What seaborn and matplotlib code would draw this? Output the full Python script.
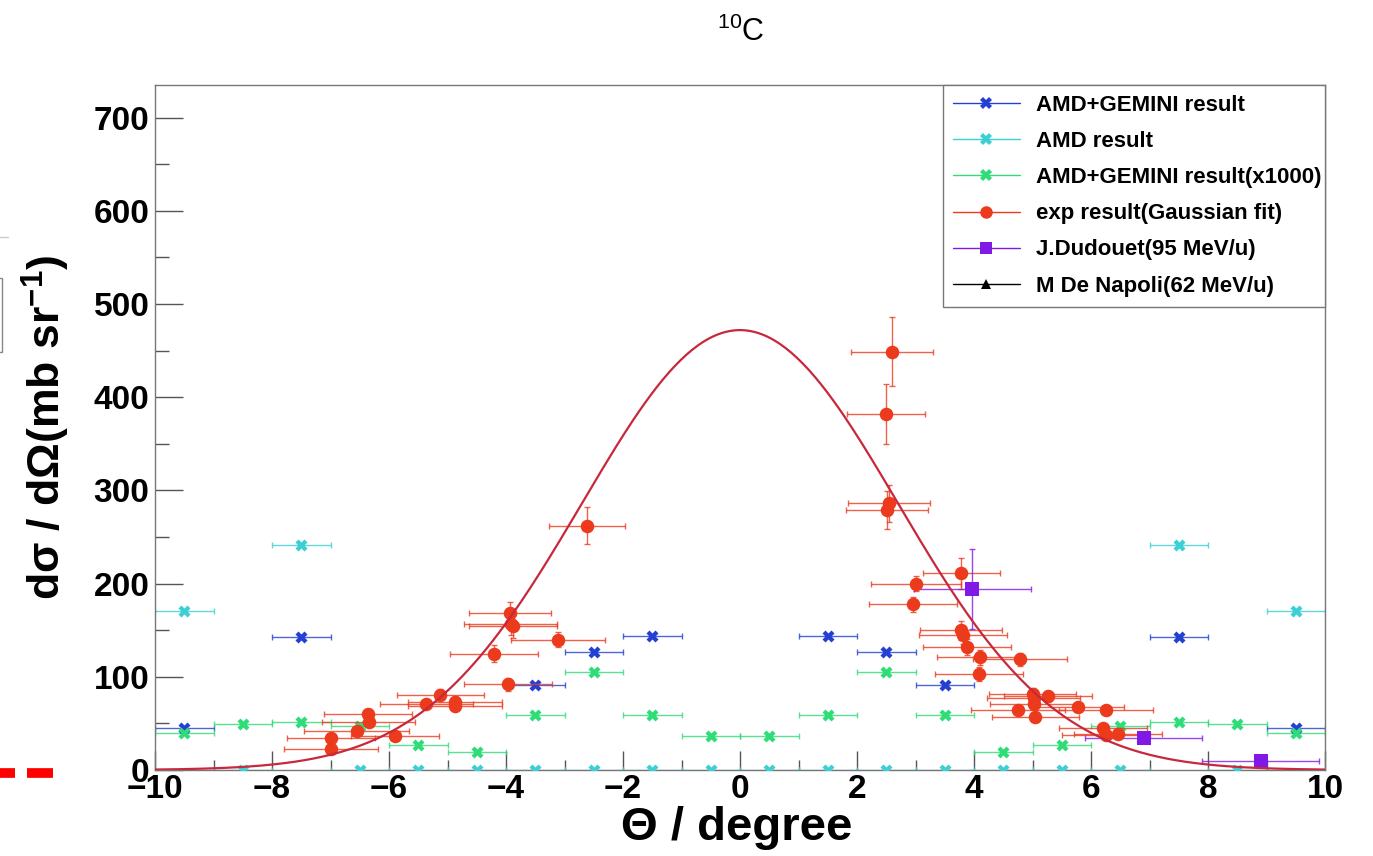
import numpy as np
import pandas as pd
import seaborn as sns
import matplotlib
matplotlib.use("Agg")
import matplotlib.pyplot as plt
from matplotlib.lines import Line2D
from matplotlib.patches import Rectangle
from matplotlib.ticker import MultipleLocator

# ---------------- data ----------------
# AMD+GEMINI result (blue)
gem_x = [-9.5, -7.5, -3.5, -2.5, -1.5, 1.5, 2.5, 3.5, 7.5, 9.5]
gem_y = [45, 143, 91, 127, 144, 144, 127, 91, 143, 45]

# AMD result (cyan)
amd_x = [-9.5, -8.5, -7.5, -6.5, -5.5, -4.5, -3.5, -2.5, -1.5, -0.5,
         0.5, 1.5, 2.5, 3.5, 4.5, 5.5, 6.5, 7.5, 8.5, 9.5]
amd_y = [171, 0, 241, 0, 0, 0, 0, 0, 0, 0,
         0, 0, 0, 0, 0, 0, 0, 241, 0, 171]

# AMD+GEMINI result (x1000) (green)
g1k_x = [-9.5, -8.5, -7.5, -6.5, -5.5, -4.5, -3.5, -2.5, -1.5, -0.5,
         0.5, 1.5, 2.5, 3.5, 4.5, 5.5, 6.5, 7.5, 8.5, 9.5]
g1k_y = [40, 49, 52, 47, 27, 19, 59, 105, 59, 37,
         37, 59, 105, 59, 19, 27, 47, 52, 49, 40]

# exp result (Gaussian fit) (red)
exp_x = [-6.99, -6.99, -6.55, -6.36, -6.35, -5.90, -5.36, -5.12, -4.87, -4.87,
         -4.20, -3.97, -3.93, -3.92, -3.88, -3.11, -2.62,
         2.60, 2.50, 2.55, 2.52, 3.78, 3.01, 2.96, 3.78, 3.81, 3.88, 4.11,
         4.79, 4.08, 5.00, 5.02, 5.02, 5.27, 5.77, 6.26, 4.75, 5.05, 6.20,
         6.26, 6.46]
exp_y = [34, 22, 42, 60, 52, 37, 71, 81, 73, 69,
         125, 92, 168, 157, 154, 140, 262,
         449, 382, 286, 279, 211, 200, 178, 150, 145, 132, 121,
         119, 103, 82, 77, 71, 79, 68, 64, 64, 57, 45,
         38, 39]
exp_xerr = [0.75, 0.80, 0.90, 0.75, 0.80, 0.75, 0.80, 0.75, 0.80, 0.80,
            0.75, 0.75, 0.70, 0.80, 0.75, 0.80, 0.65,
            0.70, 0.67, 0.70, 0.70, 0.66, 0.77, 0.75, 0.70, 0.75, 0.75, 0.75,
            0.80, 0.75, 0.75, 0.80, 0.75, 0.75, 0.80, 0.80, 0.80, 0.75, 0.75,
            0.75, 0.75]
exp_yerr = [4, 4, 4, 5, 5, 4, 5, 6, 6, 6,
            9, 7, 12, 12, 12, 8, 20,
            37, 32, 20, 20, 17, 8, 8, 10, 10, 9, 8,
            7, 7, 6, 6, 6, 6, 5, 5, 5, 5, 4,
            4, 4]

# J.Dudouet (95 MeV/u) (violet)
dud_x = [3.97, 6.9, 8.9]
dud_y = [194, 34, 10]
dud_xerr = [1.0, 1.0, 1.0]
dud_yerr = [43, 4, 2]

# M De Napoli (62 MeV/u) (black) -- no visible points
nap_x = []
nap_y = []

# Gaussian fit parameters
fit_amp, fit_mean, fit_sigma = 472.0, 0.0, 2.7

labels = ["AMD+GEMINI result", "AMD result", "AMD+GEMINI result(x1000)",
          "exp result(Gaussian fit)", "J.Dudouet(95 MeV/u)", "M De Napoli(62 MeV/u)"]

# ---------------- style ----------------
sns.set_theme(style="ticks")
plt.rcParams['font.family'] = ['Liberation Sans', 'DejaVu Sans']
plt.rcParams['mathtext.fontset'] = 'custom'
plt.rcParams['mathtext.rm'] = 'Liberation Sans'
plt.rcParams['mathtext.bf'] = 'Liberation Sans:bold'
plt.rcParams['text.color'] = 'black'
plt.rcParams['axes.labelcolor'] = 'black'
plt.rcParams['xtick.labelcolor'] = 'black'
plt.rcParams['ytick.labelcolor'] = 'black'

c_blue = '#2340d2'
c_cyan = '#3ccfd4'
c_green = '#2edc78'
c_red = '#eb3a1c'
c_fit = '#c8283c'
c_violet = '#8018e6'
c_black = '#000000'

W, H = 1373, 856
fig = plt.figure(figsize=(W / 100, H / 100), dpi=100)
ax = fig.add_axes([155 / W, 86 / H, 1170 / W, 685 / H])

def errs(x, y, xerr, yerr, color, lw=1.0, z=2):
    ax.errorbar(x, y, xerr=xerr, yerr=yerr, fmt='none', ecolor=color,
                elinewidth=lw, capsize=2.5, capthick=lw, alpha=0.8, zorder=z)

# blue
errs(gem_x, gem_y, [0.5] * len(gem_x), None, c_blue, z=2)
sns.scatterplot(x=gem_x, y=gem_y, marker='X', s=75, color=c_blue, linewidth=0, ax=ax, zorder=3)
# cyan
errs(amd_x, amd_y, [0.5] * len(amd_x), None, c_cyan, z=2)
sns.scatterplot(x=amd_x, y=amd_y, marker='X', s=75, color=c_cyan, linewidth=0, ax=ax, zorder=3)
# green
errs(g1k_x, g1k_y, [0.5] * len(g1k_x), None, c_green, z=2)
sns.scatterplot(x=g1k_x, y=g1k_y, marker='X', s=75, color=c_green, linewidth=0, ax=ax, zorder=3)
# red exp
errs(exp_x, exp_y, exp_xerr, exp_yerr, c_red, z=4)
sns.scatterplot(x=exp_x, y=exp_y, marker='o', s=95, color=c_red, linewidth=0, ax=ax, zorder=5)
# violet
errs(dud_x, dud_y, dud_xerr, dud_yerr, c_violet, z=4)
sns.scatterplot(x=dud_x, y=dud_y, marker='s', s=90, color=c_violet, linewidth=0, ax=ax, zorder=5)
# black (no points)
sns.scatterplot(x=nap_x, y=nap_y, marker='^', color=c_black, ax=ax)

# Gaussian fit curve
fx = np.linspace(-10, 10, 400)
fy = fit_amp * np.exp(-0.5 * ((fx - fit_mean) / fit_sigma) ** 2)
sns.lineplot(x=fx, y=fy, color=c_fit, linewidth=1.6, ax=ax, zorder=6)

ax.set_xlim(-10, 10)
ax.set_ylim(0, 735)

# ticks (ROOT style, inward)
ax.xaxis.set_major_locator(MultipleLocator(2))
ax.xaxis.set_minor_locator(MultipleLocator(1))
ax.yaxis.set_major_locator(MultipleLocator(100))
ax.yaxis.set_minor_locator(MultipleLocator(50))
ax.tick_params(axis='y', which='major', direction='in', length=20, width=1.0,
               color='#555555', labelsize=24, pad=4)
ax.tick_params(axis='y', which='minor', direction='in', length=10, width=1.0, color='#555555')
ax.tick_params(axis='x', which='major', direction='in', length=14, width=1.0,
               color='#555555', labelsize=24, pad=3)
ax.tick_params(axis='x', which='minor', direction='in', length=7, width=1.0, color='#555555')
for lab in ax.get_xticklabels() + ax.get_yticklabels():
    lab.set_fontweight('bold')

for sp in ax.spines.values():
    sp.set_visible(True)
    sp.set_color('#777777')
    sp.set_linewidth(1.0)

ax.set_xlabel('Θ / degree', fontsize=34, fontweight='bold', va='center')
ax.xaxis.set_label_coords(0.497, -0.085)
ax.set_ylabel(r'dσ / dΩ(mb sr$^{\mathbf{-1}}$)', fontsize=32, fontweight='bold', va='center')
ax.yaxis.set_label_coords(-0.0935, 0.50)

fig.text(741 / W, 1 - 32 / H, r'$^{10}$C', fontsize=22, ha='center', va='center')

# legend
handles = [
    Line2D([], [], color=c_blue, marker='X', markersize=8, markeredgewidth=0, linewidth=1),
    Line2D([], [], color=c_cyan, marker='X', markersize=8, markeredgewidth=0, linewidth=1),
    Line2D([], [], color=c_green, marker='X', markersize=8, markeredgewidth=0, linewidth=1),
    Line2D([], [], color=c_red, marker='o', markersize=9, markeredgewidth=0, linewidth=1),
    Line2D([], [], color=c_violet, marker='s', markersize=9, markeredgewidth=0, linewidth=1),
    Line2D([], [], color=c_black, marker='^', markersize=7, markeredgewidth=0, linewidth=1),
]
leg = ax.legend(handles, labels, loc='upper left',
                bbox_to_anchor=((943 - 155) / 1170, 0.0, 1 - (943 - 155) / 1170, 1.0),
                mode='expand', borderaxespad=0, fancybox=False, framealpha=1,
                edgecolor='#777777', prop={'weight': 'bold', 'size': 16},
                handlelength=3.0, handletextpad=0.75, labelspacing=0.68,
                borderpad=0.45)
leg.get_frame().set_linewidth(1.0)

# stray marks at the left edge of the source image
fig.add_artist(Line2D([0 / W, 15 / W], [1 - 773 / H] * 2, color='#ff0000', lw=7,
                      solid_capstyle='butt'))
fig.add_artist(Line2D([27 / W, 53 / W], [1 - 773 / H] * 2, color='#ff0000', lw=7,
                      solid_capstyle='butt'))
fig.add_artist(Line2D([0 / W, 8 / W], [1 - 237 / H] * 2, color='#cccccc', lw=1))
fig.add_artist(Rectangle((-2 / W, 1 - 352 / H), 4 / W, 74 / H, fill=False,
                         edgecolor='#888888', lw=1, transform=fig.transFigure))

fig.savefig('out.png', dpi=100)
